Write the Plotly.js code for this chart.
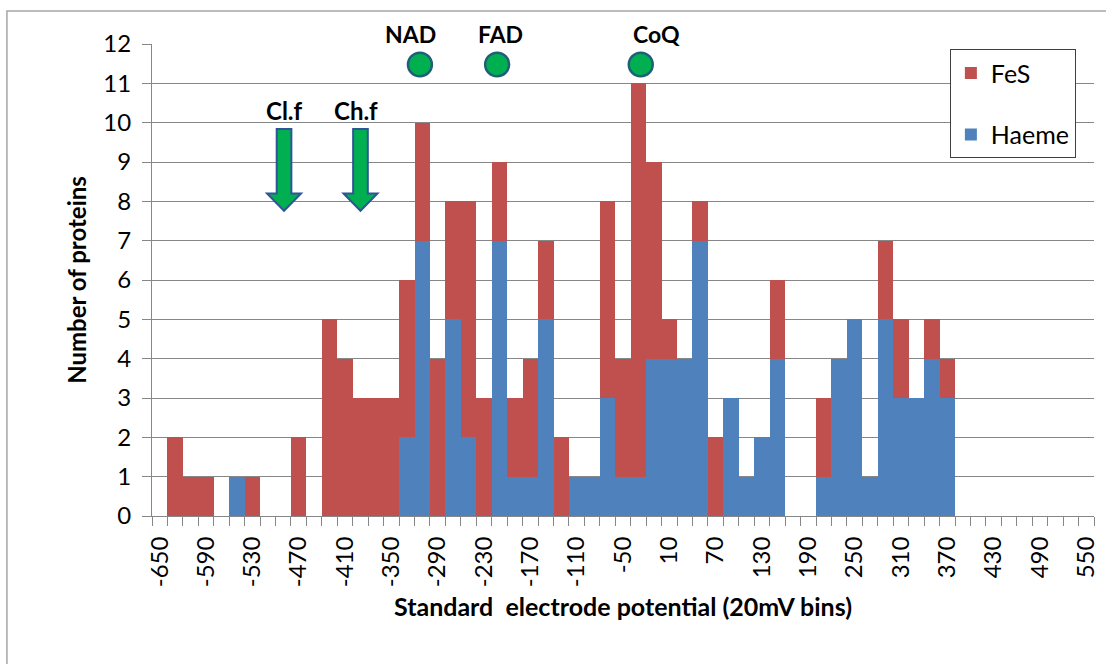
<!DOCTYPE html>
<html>
<head>
<meta charset="utf-8">
<script src="https://cdn.plot.ly/plotly-3.0.1.min.js"></script>
<style>
  html, body { margin: 0; padding: 0; background: #ffffff; }
  #chart { width: 1106px; height: 664px; }
</style>
</head>
<body>
<div id="chart"></div>
<script>
// 20 mV bin centres (mV)
const binCentres = [
  -650, -630, -610, -590, -570, -550, -530, -510, -490, -470,
  -450, -430, -410, -390, -370, -350, -330, -310, -290, -270,
  -250, -230, -210, -190, -170, -150, -130, -110, -90, -70,
  -50, -30, -10, 10, 30, 50, 70, 90, 110, 130,
  150, 170, 190, 210, 230, 250, 270, 290, 310, 330,
  350, 370, 390, 410, 430, 450, 470, 490, 510, 530,
  550
];
const haemeCounts = [
  0, 0, 0, 0, 0, 1, 0, 0, 0, 0,
  0, 0, 0, 0, 0, 0, 2, 7, 0, 5,
  2, 0, 7, 1, 1, 5, 0, 1, 1, 3,
  1, 1, 4, 4, 4, 7, 0, 3, 1, 2,
  4, 0, 0, 1, 4, 5, 1, 5, 3, 3,
  4, 3, 0, 0, 0, 0, 0, 0, 0, 0,
  0
];
const fesCounts = [
  0, 2, 1, 1, 0, 0, 1, 0, 0, 2,
  0, 5, 4, 3, 3, 3, 4, 3, 4, 3,
  6, 3, 2, 2, 3, 2, 2, 0, 0, 5,
  3, 10, 5, 1, 0, 1, 2, 0, 0, 0,
  2, 0, 0, 2, 0, 0, 0, 2, 2, 0,
  1, 1, 0, 0, 0, 0, 0, 0, 0, 0,
  0
];
const xTickValues = [-650, -590, -530, -470, -410, -350, -290, -230, -170, -110, -50, 10, 70, 130, 190, 250, 310, 370, 430, 490, 550];
const xTickLabels = ['-650', '-590', '-530', '-470', '-410', '-350', '-290', '-230', '-170', '-110', '-50', '10', '70', '130', '190', '250', '310', '370', '430', '490', '550'];
const yTickValues = [0, 1, 2, 3, 4, 5, 6, 7, 8, 9, 10, 11, 12];

// marker annotations (potentials in mV)
const cofactorNames = ['NAD', 'FAD', 'CoQ'];
const cofactorLabelPos = [-325, -209, -7];
const cofactorDotPos = [-313, -213, -27];
const donorNames = ['Cl.f', 'Ch.f'];
const donorLabelPos = [-488, -396];
const donorArrowPos = [-489, -390];

const FONT = 'Lato, "Open Sans", sans-serif';
const GREY = '#878787';

const traces = [
  {
    type: 'bar', name: 'Haeme', x: binCentres, y: haemeCounts,
    marker: { color: '#4F81BD', line: { width: 0 } },
    legendgroup: 'h', legendrank: 2
  },
  {
    type: 'bar', name: 'FeS', x: binCentres, y: fesCounts,
    marker: { color: '#C0504D', line: { width: 0 } },
    legendgroup: 'f', legendrank: 1
  }
];

const annotations = [];
const shapes = [];

// outer frame
shapes.push({
  type: 'rect', xref: 'paper', yref: 'paper',
  x0: -0.154, x1: 1.2, y0: -0.5, y1: 1.0699,
  line: { color: '#a6a6a6', width: 1.5 }, fillcolor: 'rgba(0,0,0,0)', layer: 'below'
});

cofactorNames.forEach((n, i) => {
  annotations.push({
    xref: 'x', yref: 'paper', x: cofactorLabelPos[i], y: 1.021,
    text: '<b>' + n + '</b>', showarrow: false,
    font: { family: FONT, size: 23, color: '#000' },
    xanchor: 'center', yanchor: 'middle'
  });
  shapes.push({
    type: 'circle', xref: 'x', yref: 'y',
    x0: cofactorDotPos[i] - 15.5, x1: cofactorDotPos[i] + 15.5,
    y0: 11.48 - 0.30, y1: 11.48 + 0.30,
    fillcolor: '#00B050', line: { color: '#1F5F7A', width: 2.5 }
  });
});

donorNames.forEach((n, i) => {
  annotations.push({
    xref: 'x', yref: 'y', x: donorLabelPos[i], y: 10.32,
    text: '<b>' + n + '</b>', showarrow: false,
    font: { family: FONT, size: 24, color: '#000' },
    xanchor: 'center', yanchor: 'middle'
  });
  const c = donorArrowPos[i];
  const sw = 9.5, hw = 22;
  const top = 9.84, base = 8.2, tip = 7.76;
  shapes.push({
    type: 'path', xref: 'x', yref: 'y',
    path: `M ${c - sw},${top} L ${c + sw},${top} L ${c + sw},${base} L ${c + hw},${base} L ${c},${tip} L ${c - hw},${base} L ${c - sw},${base} Z`,
    fillcolor: '#00B050', line: { color: '#2F5597', width: 2 }
  });
});

const layout = {
  width: 1106, height: 664,
  margin: { l: 152, r: 12, t: 44, b: 148 },
  paper_bgcolor: '#ffffff', plot_bgcolor: '#ffffff',
  barmode: 'stack', bargap: 0,
  font: { family: FONT, color: '#000' },
  showlegend: true,
  legend: {
    x: 0.847, y: 0.989, xanchor: 'left', yanchor: 'top',
    bordercolor: '#404040', borderwidth: 1, bgcolor: '#ffffff',
    font: { family: FONT, size: 25, color: '#000' },
    traceorder: 'grouped', tracegroupgap: 26,
    entrywidth: 100, entrywidthmode: 'pixels'
  },
  xaxis: {
    type: 'linear', range: [-660, 560],
    tickmode: 'array', tickvals: xTickValues, ticktext: xTickLabels,
    tickangle: -90, ticks: '', ticklabelstandoff: 10,
    tickfont: { family: FONT, size: 24, color: '#000' },
    showline: true, linecolor: GREY, linewidth: 1,
    showgrid: false, zeroline: false,
    minor: { ticks: 'outside', tickmode: 'linear', tick0: -660, dtick: 20, ticklen: 9, tickcolor: GREY, tickwidth: 1, showgrid: false },
    title: { text: '<b>Standard\u00a0 electrode potential (20mV bins)</b>', font: { family: FONT, size: 25, color: '#000' }, standoff: 12 }
  },
  yaxis: {
    range: [0, 12], tickmode: 'array', tickvals: yTickValues,
    ticks: 'outside', ticklen: 9, tickcolor: GREY, tickwidth: 1,
    ticklabelstandoff: 6,
    tickfont: { family: FONT, size: 24, color: '#000' },
    showline: true, linecolor: GREY, linewidth: 1,
    showgrid: true, gridcolor: GREY, gridwidth: 1, zeroline: false,
    title: { text: '<b>Number of proteins</b>', font: { family: FONT, size: 24, color: '#000' }, standoff: 9 }
  },
  shapes: shapes,
  annotations: annotations
};

Plotly.newPlot('chart', traces, layout, { displayModeBar: false, staticPlot: true });
</script>
</body>
</html>
